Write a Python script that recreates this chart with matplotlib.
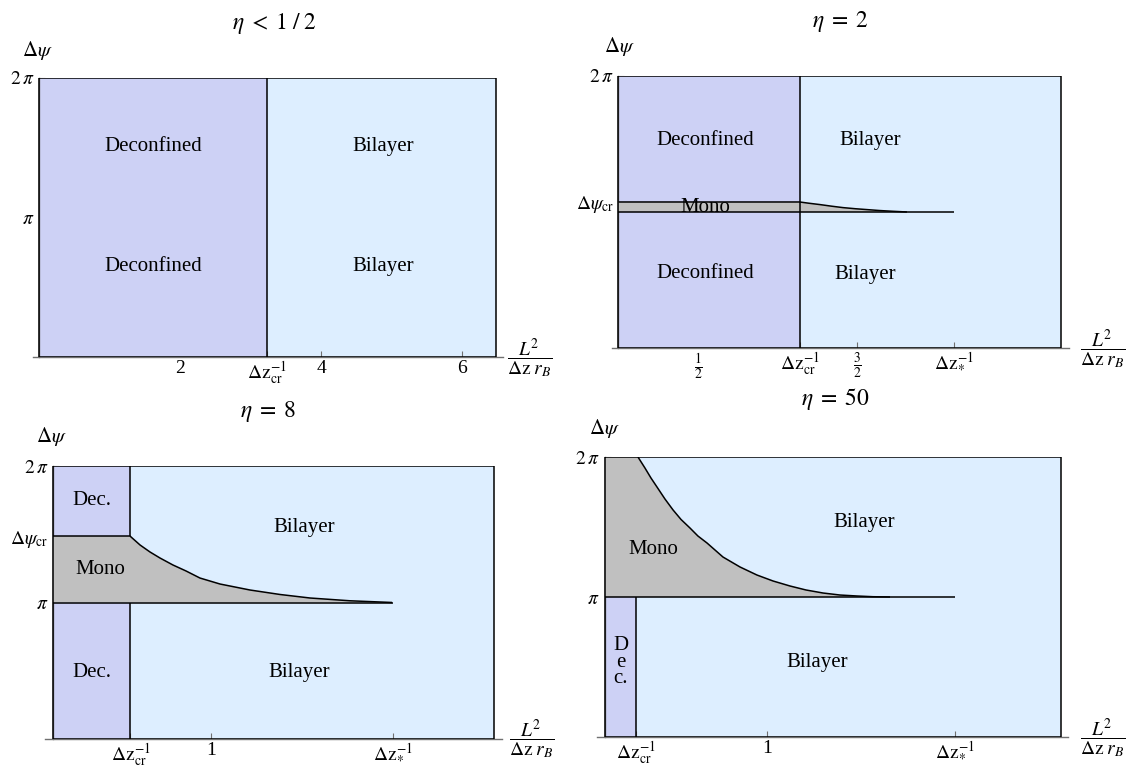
import numpy as np
import matplotlib.pyplot as plt
from matplotlib.patches import Rectangle

plt.rcParams['font.family'] = ['Liberation Serif', 'DejaVu Serif']
plt.rcParams['mathtext.fontset'] = 'stix'

W, H = 1127, 766
PI = np.pi
C_DEC = '#cdd1f5'
C_BIL = '#ddeeff'
C_MONO = '#c0c0c0'
C_AX = '#707070'

# ---- data ----
# eta < 1/2
p1_dzcr, p1_xmax = 3.23, 6.48

# eta = 2
p2_dzcr, p2_dzstar, p2_xmax, p2_psicr = 1.14, 2.11, 2.78, 3.373
p2_curve_x = [1.14, 1.20, 1.267, 1.34, 1.412, 1.49, 1.563, 1.64, 1.726, 1.814]
p2_curve_y = [3.373, 3.343, 3.313, 3.276, 3.243, 3.217, 3.197, 3.176, 3.158, 3.142]

# eta = 8
p3_dzcr, p3_dzstar, p3_xmax, p3_psicr = 0.49, 2.15, 2.79, 4.672
p3_curve_x = [0.487, 0.551, 0.614, 0.677, 0.759, 0.842, 0.930, 1.057,
              1.247, 1.437, 1.627, 1.880, 2.146]
p3_curve_y = [4.672, 4.465, 4.304, 4.166, 4.005, 3.867, 3.705, 3.567,
              3.429, 3.326, 3.245, 3.181, 3.142]

# eta = 50
p4_dzcr, p4_dzstar, p4_xmax = 0.194, 2.157, 2.81
p4_curve_x = [0.206, 0.249, 0.286, 0.323, 0.372, 0.422, 0.471, 0.526,
              0.575, 0.631, 0.680, 0.729, 0.834, 0.938, 1.037, 1.142,
              1.240, 1.345, 1.449, 1.554, 1.652, 1.757]
p4_curve_y = [6.283, 6.036, 5.812, 5.610, 5.341, 5.094, 4.881, 4.690,
              4.510, 4.353, 4.196, 4.039, 3.815, 3.635, 3.501, 3.388,
              3.299, 3.231, 3.186, 3.164, 3.148, 3.142]

DZCR = r'$\Delta\mathrm{z}_{\mathrm{cr}}^{-1}$'
DZST = r'$\Delta\mathrm{z}_{*}^{-1}$'
PSICR = r'$\Delta\psi_{\mathrm{cr}}$'
XLAB = r'$\dfrac{L^2}{\Delta\mathrm{z}\;r_B}$'

fig = plt.figure(figsize=(W / 100, H / 100), dpi=100)


def fx(px, py):
    return px / W, 1 - py / H


def make_ax(p0, unit, ax_l, ax_r, y_bot, y_top):
    # p0: pixel of x=0, unit: pixels per x unit
    l, b = fx(ax_l, y_bot)
    r, t = fx(ax_r, y_top)
    ax = fig.add_axes([l, b, r - l, t - b])
    ax.set_xlim((ax_l - p0) / unit, (ax_r - p0) / unit)
    ax.set_ylim(0, 2 * PI)
    ax.patch.set_alpha(0)
    for s in ['top', 'right']:
        ax.spines[s].set_visible(False)
    ax.spines['left'].set_position(('data', 0))
    ax.spines['bottom'].set_position(('data', 0))
    for s in ['left', 'bottom']:
        ax.spines[s].set_color(C_AX)
        ax.spines[s].set_linewidth(1.0)
    ax.tick_params(direction='in', length=4, color=C_AX, labelsize=14,
                   width=0.8)
    ax.tick_params(axis='x', pad=2)
    return ax


def label(ax, x, y, s, size=15):
    ax.text(x, y, s, ha='center', va='center', fontsize=size, zorder=6)


def edge(ax, xs, ys):
    ax.plot(xs, ys, color='black', lw=1.1, zorder=5, solid_capstyle='butt')


def frame(ax, xmax):
    ax.add_patch(Rectangle((0, 0), xmax, 2 * PI, fc=C_BIL, ec='none', zorder=1))
    edge(ax, [0, xmax, xmax, 0, 0], [2 * PI, 2 * PI, 0, 0, 2 * PI])


# ---------- panel 1 : eta < 1/2 ----------
ax1 = make_ax(39, 70.5, 33, 503, 357, 78)
frame(ax1, p1_xmax)
ax1.add_patch(Rectangle((0, 0), p1_dzcr, 2 * PI, fc=C_DEC, ec='none', zorder=2))
edge(ax1, [p1_dzcr, p1_dzcr], [0, 2 * PI])
ax1.set_xticks([2, p1_dzcr, 4, 6], ['2', DZCR, '4', '6'])
ax1.set_yticks([PI, 2 * PI], [r'$\pi$', r'$2\,\pi$'])
label(ax1, 1.62, 4.73, 'Deconfined')
label(ax1, 1.62, 2.03, 'Deconfined')
label(ax1, 4.88, 4.73, 'Bilayer')
label(ax1, 4.88, 2.03, 'Bilayer')

# ---------- panel 2 : eta = 2 ----------
ax2 = make_ax(618.5, 159, 612, 1069, 348, 76)
frame(ax2, p2_xmax)
ax2.add_patch(Rectangle((0, 0), p2_dzcr, 2 * PI, fc=C_DEC, ec='none', zorder=2))
mx = [0, 0] + p2_curve_x + [p2_dzstar]
my = [PI, p2_psicr] + p2_curve_y + [PI]
ax2.fill(mx, my, color=C_MONO, zorder=3, lw=0)
edge(ax2, [0] + p2_curve_x, [p2_psicr] + p2_curve_y)
edge(ax2, [0, p2_dzstar], [PI, PI])
edge(ax2, [p2_dzcr, p2_dzcr], [0, 2 * PI])
ax2.set_xticks([0.5, p2_dzcr, 1.5, p2_dzstar],
               [r'$\frac{1}{2}$', DZCR, r'$\frac{3}{2}$', DZST])
ax2.set_yticks([p2_psicr, 2 * PI], [PSICR, r'$2\,\pi$'])
label(ax2, 0.544, 4.80, 'Deconfined')
label(ax2, 0.544, 1.73, 'Deconfined')
label(ax2, 1.58, 4.80, 'Bilayer')
label(ax2, 1.55, 1.69, 'Bilayer')
label(ax2, 0.544, 3.24, 'Mono')

# ---------- panel 3 : eta = 8 ----------
ax3 = make_ax(53, 158, 45, 502, 739, 466)
frame(ax3, p3_xmax)
ax3.add_patch(Rectangle((0, 0), p3_dzcr, PI, fc=C_DEC, ec='none', zorder=2))
ax3.add_patch(Rectangle((0, p3_psicr), p3_dzcr, 2 * PI - p3_psicr, fc=C_DEC,
                        ec='none', zorder=2))
mx = [0, 0] + p3_curve_x
my = [PI, p3_psicr] + p3_curve_y
ax3.fill(mx, my, color=C_MONO, zorder=3, lw=0)
edge(ax3, [0] + p3_curve_x, [p3_psicr] + p3_curve_y)
edge(ax3, [0, p3_dzstar], [PI, PI])
edge(ax3, [p3_dzcr, p3_dzcr], [0, PI])
edge(ax3, [p3_dzcr, p3_dzcr], [p3_psicr, 2 * PI])
ax3.set_xticks([p3_dzcr, 1, p3_dzstar], [DZCR, '1', DZST])
ax3.set_yticks([PI, p3_psicr, 2 * PI], [r'$\pi$', PSICR, r'$2\,\pi$'])
label(ax3, 0.247, 5.50, 'Dec.')
label(ax3, 0.247, 1.54, 'Dec.')
label(ax3, 0.297, 3.89, 'Mono')
label(ax3, 1.59, 4.86, 'Bilayer')
label(ax3, 1.56, 1.52, 'Bilayer')

# ---------- panel 4 : eta = 50 ----------
ax4 = make_ax(604.5, 162.5, 597, 1068, 737, 457)
frame(ax4, p4_xmax)
ax4.add_patch(Rectangle((0, 0), p4_dzcr, PI, fc=C_DEC, ec='none', zorder=2))
mx = [0, 0] + p4_curve_x + [p4_dzstar]
my = [PI, 2 * PI] + p4_curve_y + [PI]
ax4.fill(mx, my, color=C_MONO, zorder=3, lw=0)
edge(ax4, p4_curve_x, p4_curve_y)
edge(ax4, [0, p4_dzstar], [PI, PI])
edge(ax4, [p4_dzcr, p4_dzcr], [0, PI])
ax4.set_xticks([p4_dzcr, 1, p4_dzstar], [DZCR, '1', DZST])
ax4.set_yticks([PI, 2 * PI], [r'$\pi$', r'$2\,\pi$'])
label(ax4, 0.298, 4.20, 'Mono')
label(ax4, 1.60, 4.82, 'Bilayer')
label(ax4, 1.31, 1.68, 'Bilayer')
ax4.text(0.10, 1.68, 'D\ne\nc.', ha='center', va='center', fontsize=15,
         linespacing=0.8, zorder=6)

# ---------- titles, axis names ----------
titles = [r'$\eta\;<\;1\;/\;2$', r'$\eta\;=\;2$', r'$\eta\;=\;8$', r'$\eta\;=\;50$']
title_pos = [(274, 24), (840, 21), (268, 412), (835, 399)]
psi_pos = [(38, 50), (620, 47), (52, 437), (605, 428)]
xlab_pos = [(530, 358), (1103, 349), (532, 739), (1103, 738)]
for t, (tx, ty), (qx, qy), (lx, ly) in zip(titles, title_pos, psi_pos, xlab_pos):
    fig.text(*fx(tx, ty), t, ha='center', va='center', fontsize=17)
    fig.text(*fx(qx, qy), r'$\Delta\psi$', ha='center', va='center', fontsize=15)
    fig.text(*fx(lx, ly), XLAB, ha='center', va='center', fontsize=14)

fig.savefig('out.png', dpi=100)
